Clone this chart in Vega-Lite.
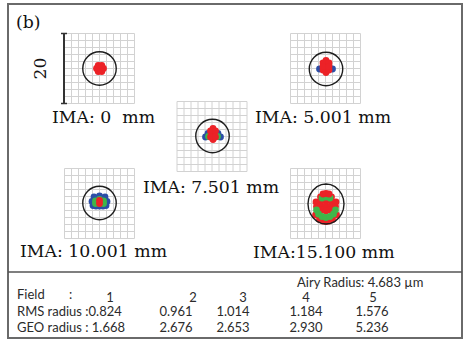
{
  "$schema": "https://vega.github.io/schema/vega-lite/v6.json",
  "width": 468,
  "height": 342,
  "autosize": {"type": "fit", "contains": "padding"},
  "padding": 0,
  "background": "white",
  "config": {"view": {"stroke": null}},
  "datasets": {
    "frame": [{"x": 8, "x2": 462, "y": 4, "y2": 338}],
    "sep": [{"x": 8, "x2": 462, "y": 272}],
    "grids": [
      {"panel": 1, "x": 99.5, "y": 68.5},
      {"panel": 2, "x": 325.5, "y": 68.5},
      {"panel": 3, "x": 212, "y": 136.5},
      {"panel": 4, "x": 99.5, "y": 203.5},
      {"panel": 5, "x": 325.5, "y": 203.5}
    ],
    "bar": [{"x": 64, "y": 33.5, "y2": 103.5}],
    "barEnds": [{"x": 61, "x2": 67, "y": 33.5}, {"x": 61, "x2": 67, "y": 103.5}],
    "airy": [
      {"panel": 1, "x": 99.5, "y": 68.5},
      {"panel": 2, "x": 326, "y": 69},
      {"panel": 3, "x": 212.5, "y": 136},
      {"panel": 4, "x": 99.5, "y": 203}
    ],
    "airyEllipse": [{"panel": 5, "x": 326, "y": 204}],
    "spots": [
      {"panel": 1, "wl": "0.656", "x": 100, "y": 68.5},
      {"panel": 1, "wl": "0.656", "x": 103.5, "y": 68.5},
      {"panel": 1, "wl": "0.656", "x": 101.8, "y": 71.5},
      {"panel": 1, "wl": "0.656", "x": 98.2, "y": 71.5},
      {"panel": 1, "wl": "0.656", "x": 96.5, "y": 68.5},
      {"panel": 1, "wl": "0.656", "x": 98.2, "y": 65.5},
      {"panel": 1, "wl": "0.656", "x": 101.8, "y": 65.5},

      {"panel": 2, "wl": "0.486", "x": 319.5, "y": 69},
      {"panel": 2, "wl": "0.486", "x": 332.5, "y": 69},
      {"panel": 2, "wl": "0.656", "x": 326, "y": 60.5},
      {"panel": 2, "wl": "0.656", "x": 326, "y": 66.5},
      {"panel": 2, "wl": "0.656", "x": 326, "y": 72.5},
      {"panel": 2, "wl": "0.656", "x": 323, "y": 63},
      {"panel": 2, "wl": "0.656", "x": 329, "y": 63},
      {"panel": 2, "wl": "0.656", "x": 323, "y": 70},
      {"panel": 2, "wl": "0.656", "x": 329, "y": 70},
      {"panel": 2, "wl": "0.656", "x": 323, "y": 66.5},
      {"panel": 2, "wl": "0.656", "x": 329, "y": 66.5},

      {"panel": 3, "wl": "0.486", "x": 205.5, "y": 137},
      {"panel": 3, "wl": "0.486", "x": 220.5, "y": 137},
      {"panel": 3, "wl": "0.486", "x": 208, "y": 133.5},
      {"panel": 3, "wl": "0.486", "x": 218, "y": 133.5},
      {"panel": 3, "wl": "0.587", "x": 208.5, "y": 136.5},
      {"panel": 3, "wl": "0.587", "x": 217.5, "y": 136.5},
      {"panel": 3, "wl": "0.656", "x": 213, "y": 128.5},
      {"panel": 3, "wl": "0.656", "x": 213, "y": 134},
      {"panel": 3, "wl": "0.656", "x": 213, "y": 139.5},
      {"panel": 3, "wl": "0.656", "x": 210.5, "y": 131},
      {"panel": 3, "wl": "0.656", "x": 215.5, "y": 131},
      {"panel": 3, "wl": "0.656", "x": 210.5, "y": 137},
      {"panel": 3, "wl": "0.656", "x": 215.5, "y": 137},

      {"panel": 4, "wl": "0.486", "x": 92, "y": 201.5},
      {"panel": 4, "wl": "0.486", "x": 107, "y": 201.5},
      {"panel": 4, "wl": "0.486", "x": 94, "y": 197},
      {"panel": 4, "wl": "0.486", "x": 105, "y": 197},
      {"panel": 4, "wl": "0.486", "x": 99.5, "y": 196},
      {"panel": 4, "wl": "0.486", "x": 93, "y": 205.5},
      {"panel": 4, "wl": "0.486", "x": 106, "y": 205.5},
      {"panel": 4, "wl": "0.486", "x": 99.5, "y": 206},
      {"panel": 4, "wl": "0.486", "x": 96, "y": 206},
      {"panel": 4, "wl": "0.486", "x": 103, "y": 206},
      {"panel": 4, "wl": "0.587", "x": 95.5, "y": 201},
      {"panel": 4, "wl": "0.587", "x": 103.5, "y": 201},
      {"panel": 4, "wl": "0.587", "x": 99.5, "y": 199.5},
      {"panel": 4, "wl": "0.587", "x": 95.5, "y": 203.5},
      {"panel": 4, "wl": "0.587", "x": 103.5, "y": 203.5},
      {"panel": 4, "wl": "0.587", "x": 99.5, "y": 203.5},
      {"panel": 4, "wl": "0.656", "x": 99.5, "y": 200.5},
      {"panel": 4, "wl": "0.656", "x": 99.5, "y": 203.5},

      {"panel": 5, "wl": "0.656", "x": 320.5, "y": 197},
      {"panel": 5, "wl": "0.656", "x": 326, "y": 196},
      {"panel": 5, "wl": "0.656", "x": 331.5, "y": 197},
      {"panel": 5, "wl": "0.656", "x": 316, "y": 202},
      {"panel": 5, "wl": "0.656", "x": 321, "y": 201},
      {"panel": 5, "wl": "0.656", "x": 326, "y": 201},
      {"panel": 5, "wl": "0.656", "x": 331, "y": 201},
      {"panel": 5, "wl": "0.656", "x": 336, "y": 202},
      {"panel": 5, "wl": "0.656", "x": 316.5, "y": 206.5},
      {"panel": 5, "wl": "0.656", "x": 321, "y": 206},
      {"panel": 5, "wl": "0.656", "x": 326, "y": 206},
      {"panel": 5, "wl": "0.656", "x": 331, "y": 206},
      {"panel": 5, "wl": "0.656", "x": 335.5, "y": 206.5},
      {"panel": 5, "wl": "0.656", "x": 322, "y": 210},
      {"panel": 5, "wl": "0.656", "x": 330, "y": 210},
      {"panel": 5, "wl": "0.656", "x": 326, "y": 211},
      {"panel": 5, "wl": "0.656", "x": 319.5, "y": 219.5},
      {"panel": 5, "wl": "0.656", "x": 323, "y": 221},
      {"panel": 5, "wl": "0.656", "x": 326, "y": 221.5},
      {"panel": 5, "wl": "0.656", "x": 329, "y": 221},
      {"panel": 5, "wl": "0.656", "x": 332.5, "y": 219.5},
      {"panel": 5, "wl": "0.656", "x": 315.5, "y": 215},
      {"panel": 5, "wl": "0.656", "x": 336.5, "y": 215},
      {"panel": 5, "wl": "0.587", "x": 316.5, "y": 210},
      {"panel": 5, "wl": "0.587", "x": 318.5, "y": 214},
      {"panel": 5, "wl": "0.587", "x": 322, "y": 216.5},
      {"panel": 5, "wl": "0.587", "x": 326, "y": 217.5},
      {"panel": 5, "wl": "0.587", "x": 330, "y": 216.5},
      {"panel": 5, "wl": "0.587", "x": 333.5, "y": 214},
      {"panel": 5, "wl": "0.587", "x": 335.5, "y": 210},
      {"panel": 5, "wl": "0.587", "x": 322, "y": 198},
      {"panel": 5, "wl": "0.587", "x": 326, "y": 197},
      {"panel": 5, "wl": "0.587", "x": 330, "y": 198},
      {"panel": 5, "wl": "0.656", "x": 323, "y": 194},
      {"panel": 5, "wl": "0.656", "x": 326, "y": 193.5},
      {"panel": 5, "wl": "0.656", "x": 329, "y": 194}
    ],
    "labels": [
      {"text": "(b)", "x": 16, "y": 28},
      {"text": "IMA: 0\u00a0 mm", "x": 52, "y": 123},
      {"text": "IMA: 5.001 mm", "x": 255, "y": 122.5},
      {"text": "IMA: 7.501 mm", "x": 143, "y": 193},
      {"text": "IMA: 10.001 mm", "x": 20, "y": 257},
      {"text": "IMA:15.100 mm", "x": 253, "y": 258}
    ],
    "scaleLabel": [{"text": "20", "x": 41, "y": 68.5}],
    "tableLeft": [
      {"text": "Airy Radius: 4.683 µm", "x": 297, "y": 286.5},
      {"text": "Field", "x": 17, "y": 299},
      {"text": ":", "x": 69, "y": 299},
      {"text": "RMS radius :0.824", "x": 17, "y": 316},
      {"text": "GEO radius : 1.668", "x": 17, "y": 332}
    ],
    "tableNum": [
      {"text": "1", "x": 110, "y": 301.5},
      {"text": "2", "x": 193, "y": 301.5},
      {"text": "3", "x": 243, "y": 301.5},
      {"text": "4", "x": 306, "y": 301.5},
      {"text": "5", "x": 373, "y": 301.5},
      {"text": "0.961", "x": 176, "y": 316},
      {"text": "1.014", "x": 233, "y": 316},
      {"text": "1.184", "x": 306, "y": 316},
      {"text": "1.576", "x": 372, "y": 316},
      {"text": "2.676", "x": 176, "y": 332},
      {"text": "2.653", "x": 233, "y": 332},
      {"text": "2.930", "x": 306, "y": 332},
      {"text": "5.236", "x": 372, "y": 332}
    ]
  },
  "encoding": {
    "x": {"field": "x", "type": "quantitative", "scale": {"domain": [0, 468], "nice": false, "zero": false}, "axis": null},
    "y": {"field": "y", "type": "quantitative", "scale": {"domain": [0, 342], "nice": false, "zero": false, "reverse": true}, "axis": null}
  },
  "layer": [
    {
      "data": {"name": "frame"},
      "mark": {"type": "rect", "filled": false, "stroke": "#6a6a6a", "strokeWidth": 2},
      "encoding": {"x2": {"field": "x2"}, "y2": {"field": "y2"}}
    },
    {
      "data": {"name": "sep"},
      "mark": {"type": "rule", "stroke": "#555555", "strokeWidth": 1.5},
      "encoding": {"x2": {"field": "x2"}}
    },
    {
      "data": {"name": "grids"},
      "mark": {
        "type": "point",
        "filled": false,
        "stroke": "#d2d2d2",
        "strokeWidth": 1,
        "size": 4900,
        "opacity": 1,
        "shape": "M-1,-1H1M-1,-0.8H1M-1,-0.6H1M-1,-0.4H1M-1,-0.2H1M-1,0H1M-1,0.2H1M-1,0.4H1M-1,0.6H1M-1,0.8H1M-1,1H1M-1,-1V1M-0.8,-1V1M-0.6,-1V1M-0.4,-1V1M-0.2,-1V1M0,-1V1M0.2,-1V1M0.4,-1V1M0.6,-1V1M0.8,-1V1M1,-1V1"
      },
      "encoding": {}
    },
    {
      "data": {"name": "bar"},
      "mark": {"type": "rule", "stroke": "#333333", "strokeWidth": 2},
      "encoding": {"y2": {"field": "y2"}}
    },
    {
      "data": {"name": "barEnds"},
      "mark": {"type": "rule", "stroke": "#333333", "strokeWidth": 1.5},
      "encoding": {"x2": {"field": "x2"}}
    },
    {
      "data": {"name": "spots"},
      "mark": {"type": "point", "filled": true, "shape": "circle", "size": 46, "opacity": 1, "strokeWidth": 0},
      "encoding": {
        "color": {
          "field": "wl",
          "type": "nominal",
          "scale": {"domain": ["0.486", "0.587", "0.656"], "range": ["#2c4ea6", "#3fb549", "#ec2227"]},
          "legend": null
        }
      }
    },
    {
      "data": {"name": "airy"},
      "mark": {"type": "point", "filled": false, "shape": "circle", "size": 1122, "stroke": "#1e1e1e", "strokeWidth": 1.4, "opacity": 1},
      "encoding": {}
    },
    {
      "data": {"name": "airyEllipse"},
      "mark": {
        "type": "point",
        "filled": false,
        "size": 1600,
        "stroke": "#1e1e1e",
        "strokeWidth": 1.4,
        "opacity": 1,
        "shape": "M0,-1L0.233,-0.966L0.45,-0.866L0.636,-0.707L0.779,-0.5L0.869,-0.259L0.9,0L0.869,0.259L0.779,0.5L0.636,0.707L0.45,0.866L0.233,0.966L0,1L-0.233,0.966L-0.45,0.866L-0.636,0.707L-0.779,0.5L-0.869,0.259L-0.9,0L-0.869,-0.259L-0.779,-0.5L-0.636,-0.707L-0.45,-0.866L-0.233,-0.966Z"
      },
      "encoding": {}
    },
    {
      "data": {"name": "labels"},
      "mark": {"type": "text", "font": "DejaVu Serif", "fontSize": 17.3, "align": "left", "baseline": "alphabetic", "color": "#111111"},
      "encoding": {"text": {"field": "text"}}
    },
    {
      "data": {"name": "scaleLabel"},
      "mark": {"type": "text", "font": "DejaVu Serif", "fontSize": 17.3, "align": "center", "baseline": "middle", "angle": 270, "color": "#111111"},
      "encoding": {"text": {"field": "text"}}
    },
    {
      "data": {"name": "tableLeft"},
      "mark": {"type": "text", "font": "Lato", "fontSize": 13, "align": "left", "baseline": "alphabetic", "color": "#2b2b2b"},
      "encoding": {"text": {"field": "text"}}
    },
    {
      "data": {"name": "tableNum"},
      "mark": {"type": "text", "font": "Lato", "fontSize": 13, "align": "center", "baseline": "alphabetic", "color": "#2b2b2b"},
      "encoding": {"text": {"field": "text"}}
    }
  ]
}
